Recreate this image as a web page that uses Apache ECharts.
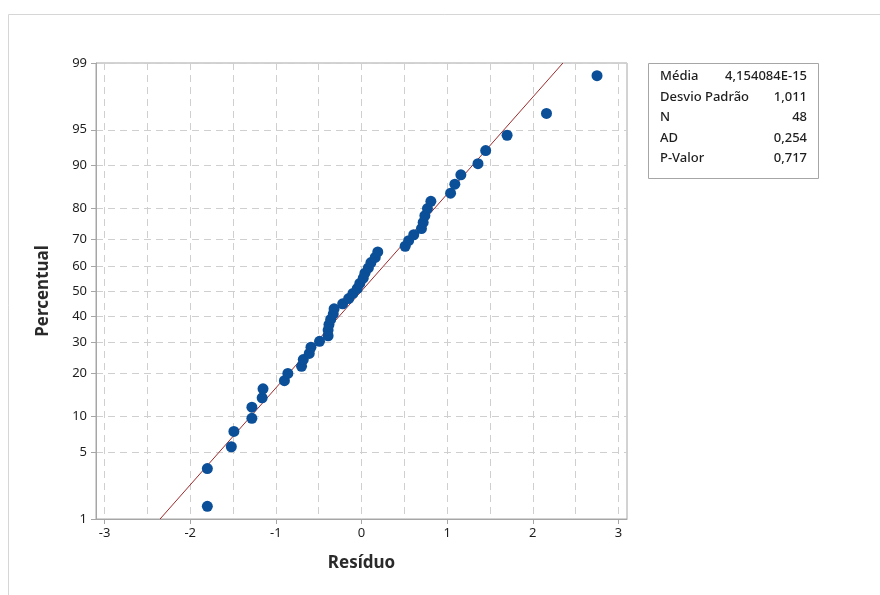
<!DOCTYPE html>
<html>
<head>
<meta charset="utf-8">
<title>Gráfico de probabilidade normal</title>
<script src="https://cdn.jsdelivr.net/npm/echarts@6/dist/echarts.min.js"></script>
<style>
    html, body { margin: 0; padding: 0; background: #fff; }
    #chart { width: 880px; height: 595px; }
</style>
</head>
<body>
<div id="chart"></div>
<script>
// resíduos ordenados
var residuos = [-1.80, -1.80, -1.52, -1.49, -1.28, -1.28, -1.16, -1.15, -0.90, -0.86,
    -0.70, -0.68, -0.61, -0.59, -0.49, -0.39, -0.39, -0.38, -0.36, -0.33,
    -0.32, -0.22, -0.15, -0.10, -0.05, -0.02, 0.02, 0.04, 0.08, 0.11,
    0.16, 0.19, 0.51, 0.55, 0.61, 0.70, 0.72, 0.74, 0.77, 0.81,
    1.04, 1.09, 1.16, 1.36, 1.45, 1.70, 2.16, 2.75];
// percentual de cada ponto
var percentuais = [1.4, 3.5, 5.6, 7.6, 9.7, 11.8, 13.8, 15.9, 18.0, 20.0,
    22.1, 24.2, 26.2, 28.3, 30.4, 32.4, 34.5, 36.6, 38.6, 40.7,
    42.8, 44.8, 46.9, 49.0, 51.0, 53.1, 55.2, 57.2, 59.3, 61.4,
    63.4, 65.5, 67.6, 69.6, 71.7, 73.8, 75.8, 77.9, 80.0, 82.0,
    84.1, 86.2, 88.2, 90.3, 92.4, 94.4, 96.5, 98.6];
var yTicks = [1, 5, 10, 20, 30, 40, 50, 60, 70, 80, 90, 95, 99];
var xTicks = [-3, -2, -1, 0, 1, 2, 3];
var xGrid = [-3, -2.5, -2, -1.5, -1, -0.5, 0, 0.5, 1, 1.5, 2, 2.5, 3];
var media = 0;
var desvio = 1.011;
var statNomes = ['Média', 'Desvio Padrão', 'N', 'AD', 'P-Valor'];
var statValores = ['4,154084E-15', '1,011', '48', '0,254', '0,717'];

// inversa da normal padrão (Acklam)
function qnorm(p) {
    var a = [-3.969683028665376e+01, 2.209460984245205e+02, -2.759285104469687e+02, 1.383577518672690e+02, -3.066479806614716e+01, 2.506628277459239e+00];
    var b = [-5.447609879822406e+01, 1.615858368580409e+02, -1.556989798598866e+02, 6.680131188771972e+01, -1.328068155288572e+01];
    var c = [-7.784894002430293e-03, -3.223964580411365e-01, -2.400758277161838e+00, -2.549732539343734e+00, 4.374664141464968e+00, 2.938163982698783e+00];
    var d = [7.784695709041462e-03, 3.224671290700398e-01, 2.445134137142996e+00, 3.754408661907416e+00];
    var pl = 0.02425, q, r;
    if (p < pl) {
        q = Math.sqrt(-2 * Math.log(p));
        return (((((c[0] * q + c[1]) * q + c[2]) * q + c[3]) * q + c[4]) * q + c[5]) / ((((d[0] * q + d[1]) * q + d[2]) * q + d[3]) * q + 1);
    }
    if (p > 1 - pl) {
        q = Math.sqrt(-2 * Math.log(1 - p));
        return -(((((c[0] * q + c[1]) * q + c[2]) * q + c[3]) * q + c[4]) * q + c[5]) / ((((d[0] * q + d[1]) * q + d[2]) * q + d[3]) * q + 1);
    }
    q = p - 0.5;
    r = q * q;
    return (((((a[0] * r + a[1]) * r + a[2]) * r + a[3]) * r + a[4]) * r + a[5]) * q / (((((b[0] * r + b[1]) * r + b[2]) * r + b[3]) * r + b[4]) * r + 1);
}

var yZ = yTicks.map(function (p) { return qnorm(p / 100); });
var zMin = yZ[0], zMax = yZ[yZ.length - 1];
var pontos = residuos.map(function (x, i) { return [x, qnorm(percentuais[i] / 100)]; });
var reta = [[media + desvio * zMin, zMin], [media + desvio * zMax, zMax]];

var fonte = '"Noto Sans", "Open Sans", sans-serif';
var cinza = '#a6a6a6';
var texto = '#1e1e1e';

var statTexts = [];
statNomes.forEach(function (nome, i) {
    statTexts.push({
        type: 'text', left: 660, top: 70 + i * 20.5,
        style: { text: nome, font: '500 13px ' + fonte, fill: texto }
    });
    statTexts.push({
        type: 'text', right: 880 - 807, top: 70 + i * 20.5,
        style: { text: statValores[i], font: '500 13px ' + fonte, fill: texto, align: 'right' }
    });
});

var chart = echarts.init(document.getElementById('chart'), null, { renderer: 'canvas' });
chart.setOption({
    backgroundColor: '#fff',
    animation: false,
    textStyle: { fontFamily: fonte },
    grid: {
        left: 96, right: 253, top: 63, bottom: 76,
        show: true, borderColor: cinza, borderWidth: 1
    },
    xAxis: [
        {
            type: 'value', min: -3.1, max: 3.1,
            name: 'Resíduo', nameLocation: 'middle', nameGap: 36,
            nameTextStyle: { fontSize: 17, fontWeight: 'bold', color: '#2a2a2a' },
            axisLine: { show: true, onZero: false, lineStyle: { color: cinza } },
            axisTick: { show: true, length: 5, customValues: xTicks, lineStyle: { color: cinza } },
            axisLabel: { customValues: xTicks, fontSize: 13, color: texto, margin: 8 },
            splitLine: { show: false }
        },
        {
            type: 'value', min: -3.1, max: 3.1, position: 'bottom',
            axisLine: { show: false, onZero: false },
            axisTick: { show: false, customValues: xGrid },
            axisLabel: { show: false, customValues: xGrid },
            splitLine: { show: true, lineStyle: { color: '#cfcfcf', type: [7, 5] } }
        }
    ],
    yAxis: {
        type: 'value', min: zMin, max: zMax,
        name: 'Percentual', nameLocation: 'middle', nameGap: 44, nameRotate: 90,
        nameTextStyle: { fontSize: 17, fontWeight: 'bold', color: '#2a2a2a' },
        axisLine: { show: true, onZero: false, lineStyle: { color: cinza } },
        axisTick: { show: true, length: 5, customValues: yZ, lineStyle: { color: cinza } },
        axisLabel: {
            customValues: yZ, fontSize: 13, color: texto, margin: 9,
            formatter: function (v) {
                var best = 0;
                yZ.forEach(function (z, i) {
                    if (Math.abs(z - v) < Math.abs(yZ[best] - v)) best = i;
                });
                return String(yTicks[best]);
            }
        },
        splitLine: { show: true, lineStyle: { color: '#cfcfcf', type: [7, 5] } }
    },
    series: [
        {
            type: 'line', data: reta, symbol: 'none', silent: true,
            lineStyle: { color: '#9e2a2b', width: 1 }, z: 2
        },
        {
            type: 'scatter', data: pontos, symbol: 'circle', symbolSize: 11,
            itemStyle: { color: '#0a4f98', opacity: 1 }, z: 3
        }
    ],
    graphic: [
        {
            type: 'rect', left: 6, top: 12, z: -10,
            shape: { width: 900, height: 600 },
            style: { fill: 'none', stroke: '#d6d6d6', lineWidth: 1 }
        },
        {
            type: 'rect', left: 648, top: 63,
            shape: { width: 170, height: 115 },
            style: { fill: '#fff', stroke: cinza, lineWidth: 1 }
        }
    ].concat(statTexts)
});
</script>
</body>
</html>
